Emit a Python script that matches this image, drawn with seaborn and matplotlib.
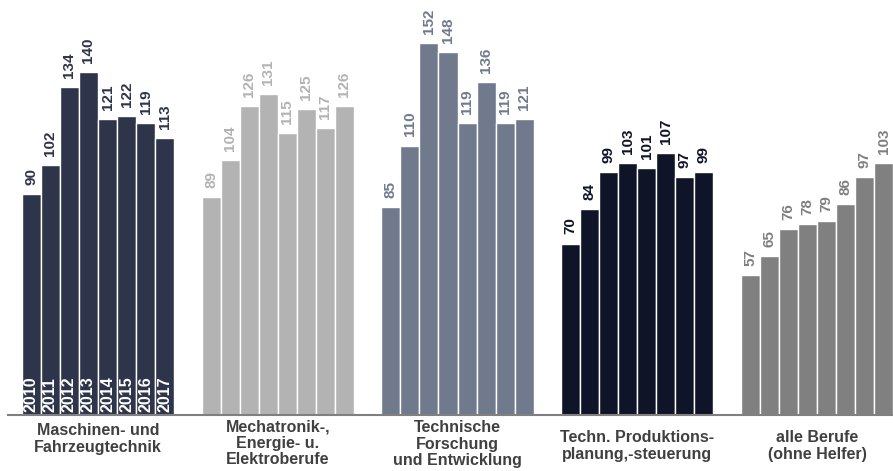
import matplotlib
matplotlib.use("Agg")
import matplotlib.pyplot as plt
import seaborn as sns
import pandas as pd

categories = ["Maschinen- und\nFahrzeugtechnik",
              "Mechatronik-,\nEnergie- u.\nElektroberufe",
              "Technische\nForschung\nund Entwicklung",
              "Techn. Produktions-\nplanung,-steuerung",
              "alle Berufe\n(ohne Helfer)"]
years = ["2010", "2011", "2012", "2013", "2014", "2015", "2016", "2017"]
maschinen = [90, 102, 134, 140, 121, 122, 119, 113]
mechatronik = [89, 104, 126, 131, 115, 125, 117, 126]
forschung = [85, 110, 152, 148, 119, 136, 119, 121]
produktion = [70, 84, 99, 103, 101, 107, 97, 99]
alle = [57, 65, 76, 78, 79, 86, 97, 103]
series = [maschinen, mechatronik, forschung, produktion, alle]
colors = ["#2e354a", "#b3b3b3", "#717a8d", "#0f1429", "#808080"]

rows = []
for c, vals in zip(categories, series):
    for y, v in zip(years, vals):
        rows.append({"cat": c, "year": y, "value": v})
df = pd.DataFrame(rows)

sns.set_theme(style="white")
plt.rcParams["font.family"] = ["Liberation Sans", "DejaVu Sans"]

W, H = 893, 471
fig = plt.figure(figsize=(W / 100, H / 100), dpi=100)
base_px = 415
ax = fig.add_axes([8 / W, (H - base_px) / H, 1 - 8 / W, base_px / H])

sns.barplot(data=df, x="cat", y="value", hue="year", order=categories,
            hue_order=years, width=0.846, dodge=True, legend=False,
            edgecolor="white", linewidth=1.0, saturation=1, errorbar=None, ax=ax)

for hi, cont in enumerate(ax.containers):
    for ci, bar in enumerate(cont.patches):
        bar.set_facecolor(colors[ci])
        h = bar.get_height()
        xc = bar.get_x() + bar.get_width() / 2
        ax.annotate(f"{h:.0f}", (xc, h), xytext=(0, 6.5), textcoords="offset points",
                    rotation=90, ha="center", va="bottom", fontsize=11,
                    fontweight="bold", color=colors[ci])
        if ci == 0:
            ax.annotate(years[hi], (xc, 0), xytext=(0, 2.5), textcoords="offset points",
                        rotation=90, ha="center", va="bottom", fontsize=11.5,
                        fontweight="bold", color="white")

ax.set_xlim(-0.5007, 4.4228)
ax.set_ylim(0, base_px / 2.45)
for s in ["top", "right", "left"]:
    ax.spines[s].set_visible(False)
ax.spines["bottom"].set_color("#808080")
ax.spines["bottom"].set_linewidth(1.5)
ax.set_xticks([])
ax.set_yticks([])
ax.set_xlabel("")
ax.set_ylabel("")

label_tops = [423, 419, 420, 430, 430]
for i, (c, t) in enumerate(zip(categories, label_tops)):
    xpx = 98 + 179.75 * i
    fig.text(xpx / W, 1 - t / H, c, ha="center", va="top", fontsize=11.5,
             fontweight="bold", color="#404040", linespacing=1.13)

fig.savefig("out.png", dpi=100)
